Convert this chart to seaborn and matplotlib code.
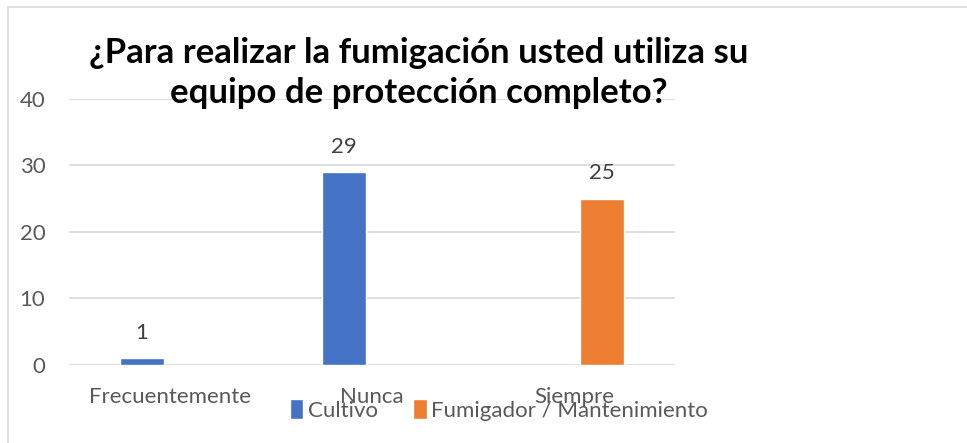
import numpy as np
import pandas as pd
import matplotlib
matplotlib.use("Agg")
import matplotlib.pyplot as plt
import seaborn as sns
from matplotlib.patches import Rectangle

categories = ["Frecuentemente", "Nunca", "Siempre"]
series_names = ["Cultivo", "Fumigador / Mantenimiento"]
cultivo = [1, 29, np.nan]
fumigador = [np.nan, np.nan, 25]
yticks = [0, 10, 20, 30, 40]
title = "¿Para realizar la fumigación usted utiliza su\nequipo de protección completo?"

rows = []
for c, v in zip(categories, cultivo):
    rows.append({"cat": c, "serie": series_names[0], "val": v})
for c, v in zip(categories, fumigador):
    rows.append({"cat": c, "serie": series_names[1], "val": v})
df = pd.DataFrame(rows)

sns.set_theme(style="white")
plt.rcParams["font.family"] = ["Lato", "DejaVu Sans"]

fig = plt.figure(figsize=(9.67, 4.43), dpi=100)
ax = fig.add_axes([69/967, 1-365/443, (675-69)/967, (365-98.7)/443])

palette = {"Cultivo": "#4472C4", "Fumigador / Mantenimiento": "#ED7D31"}
sns.barplot(data=df, x="cat", y="val", hue="serie", order=categories,
            hue_order=series_names, palette=palette, width=0.555, gap=0.2,
            ax=ax, saturation=1, legend=True)

ax.set_ylim(0, 40)
ax.set_yticks(yticks)
ax.set_xlim(-0.5, 2.5)
ax.grid(axis="y", color="#D9D9D9", linewidth=1.2)
ax.set_axisbelow(True)
for s in ax.spines.values():
    s.set_visible(False)
ax.set_xlabel("")
ax.set_ylabel("")
ax.tick_params(axis="both", length=0, labelsize=16, colors="#595959")
ax.tick_params(axis="y", pad=17)
ax.tick_params(axis="x", pad=16)

for cont in ax.containers:
    labels = ["" if (np.isnan(v) or v == 0) else f"{int(v)}" for v in cont.datavalues]
    ax.bar_label(cont, labels=labels, padding=11, fontsize=16, color="#404040")

leg = ax.legend(loc="center", bbox_to_anchor=(499/967, 1-410/443),
                bbox_transform=fig.transFigure, ncol=2, frameon=False,
                fontsize=16, handlelength=0.6, handleheight=1.0, handletextpad=0.2,
                columnspacing=1.6)
for t in leg.get_texts():
    t.set_color("#595959")

fig.text(419/967, 1-73/443, title, ha="center", va="center", fontsize=25,
         fontweight="bold", color="black", linespacing=1.28)

fig.patches.append(Rectangle((8/967, -0.1), 1.2, 1 - 7/443 + 0.1,
                             transform=fig.transFigure, fill=False,
                             edgecolor="#D9D9D9", linewidth=1.2))

fig.savefig("out.png", dpi=100, facecolor="white")
